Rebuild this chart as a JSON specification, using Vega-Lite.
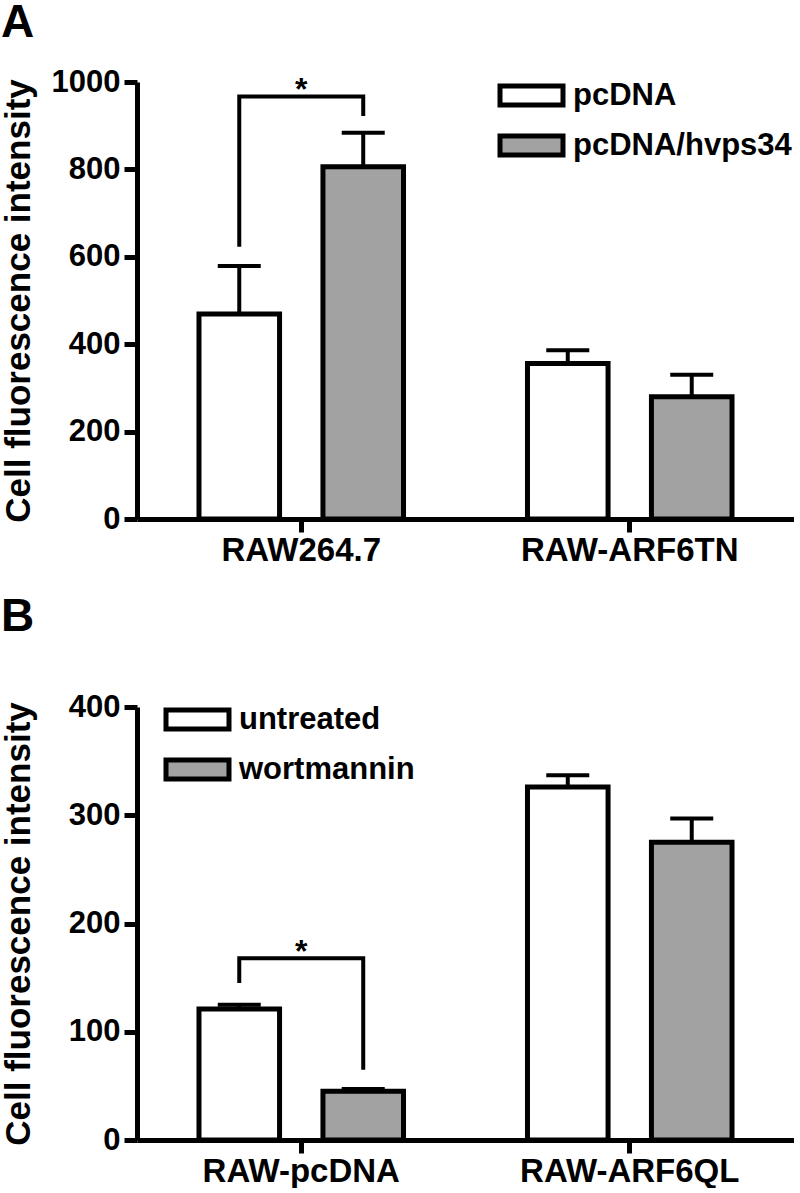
{
  "$schema": "https://vega.github.io/schema/vega-lite/v6.json",
  "padding": 0,
  "background": "white",
  "spacing": 27,
  "resolve": {
    "scale": {"x": "independent", "xOffset": "independent", "y": "independent", "fill": "independent"},
    "legend": {"fill": "independent"}
  },
  "config": {
    "view": {"stroke": null},
    "font": "Liberation Sans",
    "axis": {
      "domainColor": "black", "domainWidth": 5, "tickColor": "black", "tickWidth": 5,
      "labelFont": "Liberation Sans", "labelFontWeight": "bold", "labelColor": "black",
      "titleFont": "Liberation Sans", "titleFontWeight": "bold", "titleColor": "black",
      "grid": false, "labelLimit": 0
    },
    "axisY": {"tickSize": 13, "labelPadding": 4, "labelFontSize": 31, "titleFontSize": 35, "titleX": -101, "format": "d"},
    "axisX": {"tickSize": 13, "labelPadding": 2, "labelFontSize": 33, "labelAngle": 0},
    "legend": {
      "padding": 0, "symbolStrokeColor": "black", "symbolStrokeWidth": 5,
      "labelFont": "Liberation Sans", "labelFontWeight": "bold", "labelFontSize": 31, "labelColor": "black",
      "labelOffset": 23, "symbolType": "M-2,-0.6H2V0.6H-2Z", "symbolSize": 992, "labelLimit": 0, "rowPadding": 11,
      "symbolOpacity": 1
    },
    "tick": {"opacity": 1},
    "title": {"font": "Liberation Sans", "fontWeight": "bold", "fontSize": 46, "color": "black", "anchor": "start", "frame": "group", "dx": -136}
  },
  "datasets": {
    "barsA": [
      {"group": "RAW264.7", "treat": "pcDNA", "mean": 469, "upper": 579},
      {"group": "RAW264.7", "treat": "pcDNA/hvps34", "mean": 806, "upper": 884},
      {"group": "RAW-ARF6TN", "treat": "pcDNA", "mean": 356, "upper": 386},
      {"group": "RAW-ARF6TN", "treat": "pcDNA/hvps34", "mean": 280, "upper": 330}
    ],
    "bracketA": [
      {"group": "RAW264.7", "treat": "pcDNA", "ord": 1, "val": 623},
      {"group": "RAW264.7", "treat": "pcDNA", "ord": 2, "val": 967},
      {"group": "RAW264.7", "treat": "pcDNA/hvps34", "ord": 3, "val": 967},
      {"group": "RAW264.7", "treat": "pcDNA/hvps34", "ord": 4, "val": 922}
    ],
    "sigA": [{"group": "RAW264.7", "val": 967, "label": "*"}],
    "barsB": [
      {"group": "RAW-pcDNA", "treat": "untreated", "mean": 121, "upper": 125},
      {"group": "RAW-pcDNA", "treat": "wortmannin", "mean": 45, "upper": 47},
      {"group": "RAW-ARF6QL", "treat": "untreated", "mean": 326, "upper": 337},
      {"group": "RAW-ARF6QL", "treat": "wortmannin", "mean": 275, "upper": 297}
    ],
    "bracketB": [
      {"group": "RAW-pcDNA", "treat": "untreated", "ord": 1, "val": 145},
      {"group": "RAW-pcDNA", "treat": "untreated", "ord": 2, "val": 168},
      {"group": "RAW-pcDNA", "treat": "wortmannin", "ord": 3, "val": 168},
      {"group": "RAW-pcDNA", "treat": "wortmannin", "ord": 4, "val": 65}
    ],
    "sigB": [{"group": "RAW-pcDNA", "val": 168, "label": "*"}]
  },
  "vconcat": [
    {
      "title": {"text": "A", "offset": 19},
      "width": 657,
      "height": 437,
      "layer": [
        {
          "data": {"name": "barsA"},
          "mark": {"type": "rule", "color": "black", "strokeWidth": 4},
          "encoding": {
            "x": {"field": "group", "type": "nominal", "sort": ["RAW264.7", "RAW-ARF6TN"], "scale": {"paddingInner": 0, "paddingOuter": 0}, "axis": {"title": null}},
            "xOffset": {"field": "treat", "type": "nominal", "sort": ["pcDNA", "pcDNA/hvps34"], "scale": {"paddingInner": 0.35, "paddingOuter": 0.5}},
            "y": {"field": "mean", "type": "quantitative", "title": "Cell fluorescence intensity", "scale": {"domain": [0, 1000], "nice": false}, "axis": {"values": [0, 200, 400, 600, 800, 1000]}},
            "y2": {"field": "upper"}
          }
        },
        {
          "data": {"name": "barsA"},
          "mark": {"type": "tick", "color": "black", "thickness": 4, "size": 43, "opacity": 1},
          "encoding": {
            "x": {"field": "group", "type": "nominal", "sort": ["RAW264.7", "RAW-ARF6TN"]},
            "xOffset": {"field": "treat", "type": "nominal", "sort": ["pcDNA", "pcDNA/hvps34"]},
            "y": {"field": "upper", "type": "quantitative", "title": "Cell fluorescence intensity"}
          }
        },
        {
          "data": {"name": "barsA"},
          "mark": {"type": "bar", "stroke": "black", "strokeWidth": 5, "strokeJoin": "miter"},
          "encoding": {
            "x": {"field": "group", "type": "nominal", "sort": ["RAW264.7", "RAW-ARF6TN"]},
            "xOffset": {"field": "treat", "type": "nominal", "sort": ["pcDNA", "pcDNA/hvps34"]},
            "y": {"field": "mean", "type": "quantitative", "title": "Cell fluorescence intensity"},
            "fill": {"field": "treat", "type": "nominal", "scale": {"domain": ["pcDNA", "pcDNA/hvps34"], "range": ["#ffffff", "#a2a2a2"]}, "legend": {"title": null, "orient": "none", "legendX": 376, "legendY": -5}}
          }
        },
        {
          "data": {"name": "bracketA"},
          "mark": {"type": "line", "color": "black", "strokeWidth": 4},
          "encoding": {
            "x": {"field": "group", "type": "nominal", "sort": ["RAW264.7", "RAW-ARF6TN"]},
            "xOffset": {"field": "treat", "type": "nominal", "sort": ["pcDNA", "pcDNA/hvps34"]},
            "y": {"field": "val", "type": "quantitative", "title": "Cell fluorescence intensity"},
            "order": {"field": "ord", "type": "quantitative"}
          }
        },
        {
          "data": {"name": "sigA"},
          "mark": {"type": "text", "color": "black", "fontSize": 32, "font": "Liberation Sans", "fontWeight": "bold", "baseline": "alphabetic", "dy": 4},
          "encoding": {
            "x": {"field": "group", "type": "nominal", "sort": ["RAW264.7", "RAW-ARF6TN"]},
            "y": {"field": "val", "type": "quantitative", "title": "Cell fluorescence intensity"},
            "text": {"field": "label"}
          }
        }
      ]
    },
    {
      "title": {"text": "B", "offset": 50},
      "width": 657,
      "height": 433,
      "layer": [
        {
          "data": {"name": "barsB"},
          "mark": {"type": "rule", "color": "black", "strokeWidth": 4},
          "encoding": {
            "x": {"field": "group", "type": "nominal", "sort": ["RAW-pcDNA", "RAW-ARF6QL"], "scale": {"paddingInner": 0, "paddingOuter": 0}, "axis": {"title": null}},
            "xOffset": {"field": "treat", "type": "nominal", "sort": ["untreated", "wortmannin"], "scale": {"paddingInner": 0.35, "paddingOuter": 0.5}},
            "y": {"field": "mean", "type": "quantitative", "title": "Cell fluorescence intensity", "scale": {"domain": [0, 400], "nice": false}, "axis": {"values": [0, 100, 200, 300, 400]}},
            "y2": {"field": "upper"}
          }
        },
        {
          "data": {"name": "barsB"},
          "mark": {"type": "tick", "color": "black", "thickness": 4, "size": 43, "opacity": 1},
          "encoding": {
            "x": {"field": "group", "type": "nominal", "sort": ["RAW-pcDNA", "RAW-ARF6QL"]},
            "xOffset": {"field": "treat", "type": "nominal", "sort": ["untreated", "wortmannin"]},
            "y": {"field": "upper", "type": "quantitative", "title": "Cell fluorescence intensity"}
          }
        },
        {
          "data": {"name": "barsB"},
          "mark": {"type": "bar", "stroke": "black", "strokeWidth": 5, "strokeJoin": "miter"},
          "encoding": {
            "x": {"field": "group", "type": "nominal", "sort": ["RAW-pcDNA", "RAW-ARF6QL"]},
            "xOffset": {"field": "treat", "type": "nominal", "sort": ["untreated", "wortmannin"]},
            "y": {"field": "mean", "type": "quantitative", "title": "Cell fluorescence intensity"},
            "fill": {"field": "treat", "type": "nominal", "scale": {"domain": ["untreated", "wortmannin"], "range": ["#ffffff", "#a2a2a2"]}, "legend": {"title": null, "orient": "none", "legendX": 42, "legendY": -6}}
          }
        },
        {
          "data": {"name": "bracketB"},
          "mark": {"type": "line", "color": "black", "strokeWidth": 4},
          "encoding": {
            "x": {"field": "group", "type": "nominal", "sort": ["RAW-pcDNA", "RAW-ARF6QL"]},
            "xOffset": {"field": "treat", "type": "nominal", "sort": ["untreated", "wortmannin"]},
            "y": {"field": "val", "type": "quantitative", "title": "Cell fluorescence intensity"},
            "order": {"field": "ord", "type": "quantitative"}
          }
        },
        {
          "data": {"name": "sigB"},
          "mark": {"type": "text", "color": "black", "fontSize": 32, "font": "Liberation Sans", "fontWeight": "bold", "baseline": "alphabetic", "dy": 4},
          "encoding": {
            "x": {"field": "group", "type": "nominal", "sort": ["RAW-pcDNA", "RAW-ARF6QL"]},
            "y": {"field": "val", "type": "quantitative", "title": "Cell fluorescence intensity"},
            "text": {"field": "label"}
          }
        }
      ]
    }
  ]
}
